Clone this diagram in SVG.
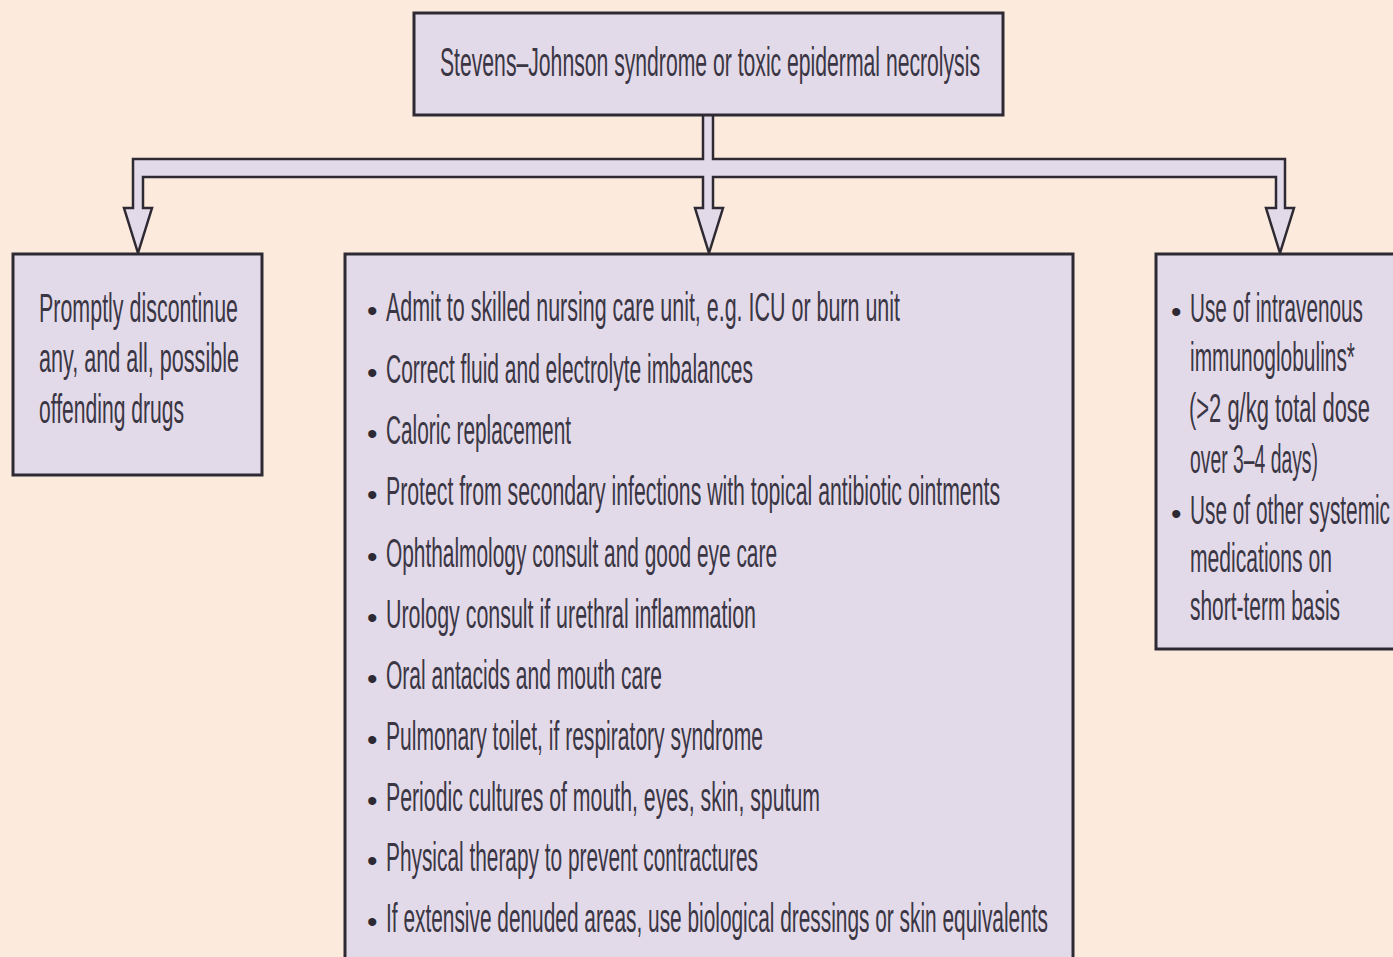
<svg xmlns="http://www.w3.org/2000/svg" width="1393" height="957" viewBox="0 0 1393 957">
  <style>
    .box { fill: #e3dae9; stroke: #2e2a33; stroke-width: 3; }
    .pipe { fill: #e3dae9; stroke: #2e2a33; stroke-width: 2.5; stroke-linejoin: miter; }
    .t { font-family: "Liberation Sans Narrow", "Liberation Sans", Arial, sans-serif; font-size: 41px; fill: #3a3644; }
    .b { font-family: "Liberation Sans", Arial, sans-serif; font-size: 30px; fill: #2e2a33; }
  </style>
  <rect x="0" y="0" width="1393" height="957" fill="#fcebdc"/>

  <g id="connectors">
    <path class="pipe" d="M703,115 L703,159 L133,159 L133,208 L124,208 L138,253 L152,208 L143,208 L143,177 L703,177 L703,208 L695,208 L709,253 L723,208 L713,208 L713,177 L1276,177 L1276,208 L1266,208 L1280,253 L1294,208 L1285,208 L1285,159 L713,159 L713,115"/>
  </g>

  <g id="node-top">
    <rect class="box" x="414" y="13" width="589" height="102"/>
    <text class="t" x="440" y="76" textLength="540" lengthAdjust="spacingAndGlyphs">Stevens–Johnson syndrome or toxic epidermal necrolysis</text>
  </g>

  <g id="node-left">
    <rect class="box" x="13" y="254" width="249" height="221"/>
    <text class="t" x="39" y="322" textLength="199" lengthAdjust="spacingAndGlyphs">Promptly discontinue</text>
    <text class="t" x="39" y="372" textLength="200" lengthAdjust="spacingAndGlyphs">any, and all, possible</text>
    <text class="t" x="39" y="423" textLength="145" lengthAdjust="spacingAndGlyphs">offending drugs</text>
  </g>

  <g id="node-middle">
    <rect class="box" x="345" y="254" width="728" height="720"/>
    <text class="b" x="367" y="321">•</text>
    <text class="t" x="386" y="321" textLength="514" lengthAdjust="spacingAndGlyphs">Admit to skilled nursing care unit, e.g. ICU or burn unit</text>
    <text class="b" x="367" y="383">•</text>
    <text class="t" x="386" y="383" textLength="367" lengthAdjust="spacingAndGlyphs">Correct fluid and electrolyte imbalances</text>
    <text class="b" x="367" y="444">•</text>
    <text class="t" x="386" y="444" textLength="185" lengthAdjust="spacingAndGlyphs">Caloric replacement</text>
    <text class="b" x="367" y="505">•</text>
    <text class="t" x="386" y="505" textLength="614" lengthAdjust="spacingAndGlyphs">Protect from secondary infections with topical antibiotic ointments</text>
    <text class="b" x="367" y="567">•</text>
    <text class="t" x="386" y="567" textLength="391" lengthAdjust="spacingAndGlyphs">Ophthalmology consult and good eye care</text>
    <text class="b" x="367" y="628">•</text>
    <text class="t" x="386" y="628" textLength="370" lengthAdjust="spacingAndGlyphs">Urology consult if urethral inflammation</text>
    <text class="b" x="367" y="689">•</text>
    <text class="t" x="386" y="689" textLength="276" lengthAdjust="spacingAndGlyphs">Oral antacids and mouth care</text>
    <text class="b" x="367" y="750">•</text>
    <text class="t" x="386" y="750" textLength="377" lengthAdjust="spacingAndGlyphs">Pulmonary toilet, if respiratory syndrome</text>
    <text class="b" x="367" y="811">•</text>
    <text class="t" x="386" y="811" textLength="434" lengthAdjust="spacingAndGlyphs">Periodic cultures of mouth, eyes, skin, sputum</text>
    <text class="b" x="367" y="871">•</text>
    <text class="t" x="386" y="871" textLength="372" lengthAdjust="spacingAndGlyphs">Physical therapy to prevent contractures</text>
    <text class="b" x="367" y="932">•</text>
    <text class="t" x="386" y="932" textLength="662" lengthAdjust="spacingAndGlyphs">If extensive denuded areas, use biological dressings or skin equivalents</text>
  </g>

  <g id="node-right">
    <rect class="box" x="1156" y="254" width="250" height="395"/>
    <text class="b" x="1171" y="322">•</text>
    <text class="t" x="1190" y="322" textLength="173" lengthAdjust="spacingAndGlyphs">Use of intravenous</text>
    <text class="t" x="1190" y="371" textLength="165" lengthAdjust="spacingAndGlyphs">immunoglobulins*</text>
    <text class="t" x="1189" y="422" textLength="181" lengthAdjust="spacingAndGlyphs">(&gt;2 g/kg total dose</text>
    <text class="t" x="1190" y="473" textLength="128" lengthAdjust="spacingAndGlyphs">over 3–4 days)</text>
    <text class="b" x="1171" y="524">•</text>
    <text class="t" x="1190" y="524" textLength="200" lengthAdjust="spacingAndGlyphs">Use of other systemic</text>
    <text class="t" x="1190" y="572" textLength="142" lengthAdjust="spacingAndGlyphs">medications on</text>
    <text class="t" x="1190" y="620" textLength="150" lengthAdjust="spacingAndGlyphs">short-term basis</text>
  </g>
</svg>
